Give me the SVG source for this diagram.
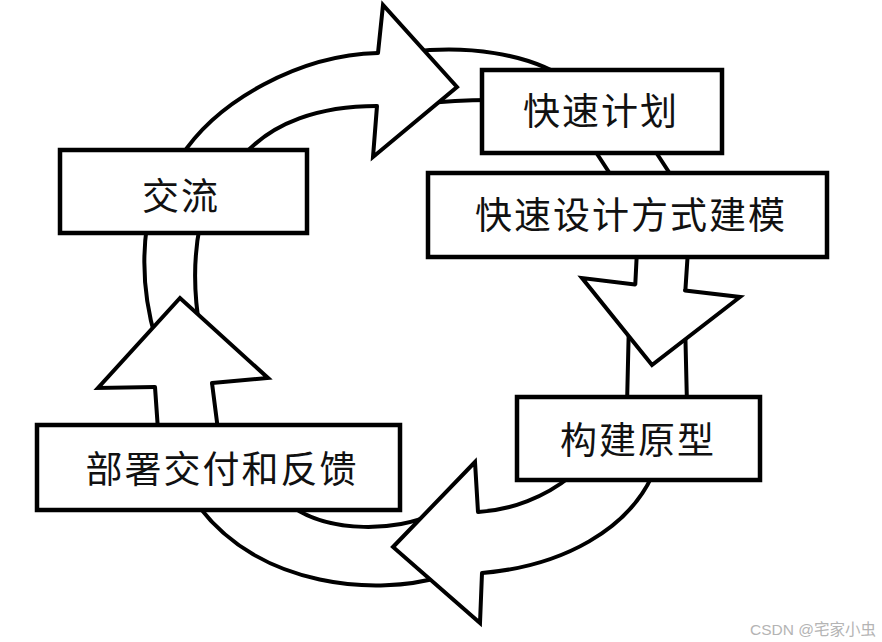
<svg xmlns="http://www.w3.org/2000/svg" width="882" height="642" viewBox="0 0 882 642">
<style>
.ring{fill:none;stroke:#000;stroke-width:4;stroke-linecap:round;stroke-linejoin:round}
.head{fill:#fff;stroke:#000;stroke-width:4;stroke-linejoin:miter;stroke-linecap:round}
.box{fill:#fff;stroke:#000;stroke-width:4.5}
.lbl{font-family:"Noto Sans CJK SC","Noto Sans",sans-serif;font-size:37px;letter-spacing:2px;fill:#111;text-anchor:middle}
.wm{font-family:"Liberation Sans","Noto Sans CJK SC",sans-serif;font-size:15.5px;fill:#b4b4b4}
</style>
<rect x="0" y="0" width="882" height="642" fill="#fff"/>
<g id="connectors">
  <path class="ring" d="M180,158 C217,100 300,55 378,53"/>
  <path class="ring" d="M242,157 C272,122 320,106 377,106"/>
  <path class="ring" d="M410,52 C460,46 530,50 575,85"/>
  <path class="ring" d="M420,104 Q455,100 490,100"/>
  <path class="ring" d="M588,140 L618,186"/>
  <path class="ring" d="M648,140 L678,186"/>
  <path class="ring" d="M637,250 L635,290"/>
  <path class="ring" d="M688,250 L685,296"/>
  <path class="ring" d="M629,320 L627,405"/>
  <path class="ring" d="M685,320 L687,405"/>
  <path class="ring" d="M571,476 C545,497 512,510 478,512"/>
  <path class="ring" d="M652,476 C628,528 565,566 482,573"/>
  <path class="ring" d="M430,515 C400,530 330,535 290,505"/>
  <path class="ring" d="M440,577 C380,595 260,590 197,504"/>
  <path class="ring" d="M158,430 L155,387"/>
  <path class="ring" d="M218,430 L212,383"/>
  <path class="ring" d="M147,225 C142,260 144,300 156,340"/>
  <path class="ring" d="M200,225 C194,255 193,290 200,330"/>
  <path id="head-top" class="head" d="M378,53 L383,5 L457,87 L373,157 L377,106"/>
  <path id="head-right" class="head" d="M635,284.4 L582,278 L652,365 L740,297 L685,290.4"/>
  <path id="head-bottom" class="head" d="M478,512 L475,462 L393,547 L480,623 L482,573"/>
  <path id="head-left" class="head" d="M155,387 L98,388 L180,298 L268,378 L212,383"/>
</g>
<g id="node-plan">
  <rect class="box" x="482" y="70" width="240" height="83"/>
  <text class="lbl" x="601" y="124.5">快速计划</text>
</g>
<g id="node-design">
  <rect class="box" x="428" y="173" width="399" height="84"/>
  <text class="lbl" x="631" y="229">快速设计方式建模</text>
</g>
<g id="node-prototype">
  <rect class="box" x="517" y="397" width="243" height="83"/>
  <text class="lbl" x="638" y="454">构建原型</text>
</g>
<g id="node-communicate">
  <rect class="box" x="60" y="150" width="247" height="83"/>
  <text class="lbl" x="181" y="210">交流</text>
</g>
<g id="node-deploy">
  <rect class="box" x="37" y="425" width="363" height="85"/>
  <text class="lbl" x="222" y="482.5">部署交付和反馈</text>
</g>
<text class="wm" x="750" y="635">CSDN @宅家小虫</text>
</svg>
